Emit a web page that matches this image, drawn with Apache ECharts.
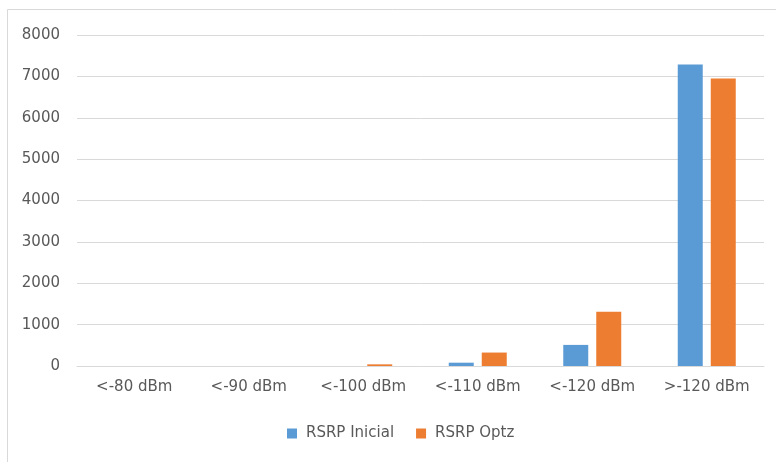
<!DOCTYPE html>
<html><head><meta charset="utf-8">
<script src="https://cdn.jsdelivr.net/npm/echarts@6/dist/echarts.min.js"></script>
<style>html,body{margin:0;padding:0;background:#fff}#c{width:776px;height:462px}</style>
</head><body><div id="c"></div>
<script>
const categories = ['<-80 dBm', '<-90 dBm', '<-100 dBm', '<-110 dBm', '<-120 dBm', '>-120 dBm'];
const rsrpInicial = [0, 0, 0, 80, 510, 7290];
const rsrpOptz = [0, 0, 40, 325, 1310, 6950];
const yTicks = { min: 0, max: 8000, interval: 1000 };

const chart = echarts.init(document.getElementById('c'));
const font = 'DejaVu Sans';
chart.setOption({
  animation: false,
  graphic: [{ type: 'rect', shape: { x: 7.5, y: 9.5, width: 780, height: 460 }, style: { fill: 'none', stroke: '#d9d9d9', lineWidth: 1 } }],
  grid: { left: 77, right: 12, top: 35, bottom: 96 },
  legend: {
    bottom: 16, left: 282, itemWidth: 10, itemHeight: 10, itemGap: 22,
    icon: 'rect',
    textStyle: { color: '#595959', fontFamily: font, fontSize: 15, padding: [0, 0, 0, 4] },
    data: ['RSRP Inicial', 'RSRP Optz']
  },
  xAxis: {
    type: 'category', data: categories,
    axisLine: { lineStyle: { color: '#d9d9d9', width: 1 } },
    axisTick: { show: false },
    axisLabel: { color: '#595959', fontFamily: font, fontSize: 15, margin: 14 }
  },
  yAxis: {
    type: 'value', min: yTicks.min, max: yTicks.max, interval: yTicks.interval,
    axisLine: { show: false }, axisTick: { show: false },
    splitLine: { lineStyle: { color: '#d9d9d9', width: 1 } },
    axisLabel: { color: '#595959', fontFamily: font, fontSize: 15, margin: 17, formatter: v => String(v) }
  },
  series: [
    { name: 'RSRP Inicial', type: 'bar', data: rsrpInicial, barWidth: 25, barGap: '32%', itemStyle: { color: '#5b9bd5' } },
    { name: 'RSRP Optz', type: 'bar', data: rsrpOptz, barWidth: 25, barGap: '32%', itemStyle: { color: '#ed7d31' } }
  ]
});
</script></body></html>
